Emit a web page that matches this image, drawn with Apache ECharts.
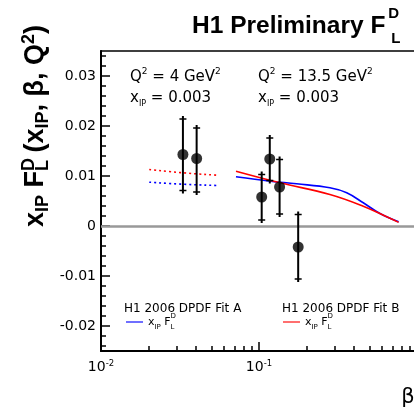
<!DOCTYPE html>
<html>
<head>
<meta charset="utf-8">
<script src="https://cdn.jsdelivr.net/npm/echarts@6/dist/echarts.min.js"></script>
<style>
  html, body { margin: 0; padding: 0; background: #fff; }
  #chart { width: 414px; height: 412px; }
</style>
</head>
<body>
<div id="chart"></div>
<script>
// measured data points: beta, value, total error band
const pointBeta = [0.033, 0.0403, 0.104, 0.117, 0.135, 0.177];
const pointVal = [0.0143, 0.0135, 0.0058, 0.0134, 0.0078, -0.0042];
const pointLow = [0.0071, 0.0068, 0.0012, 0.0091, 0.0024, -0.0106];
const pointHigh = [0.0214, 0.0196, 0.0103, 0.0176, 0.0133, 0.0023];

// Q2 = 4 GeV2 predictions (dotted)
const lowQBeta = [0.0202, 0.033, 0.0545];
const lowQFitA = [0.00876, 0.00836, 0.0081];
const lowQFitB = [0.0113, 0.01064, 0.01016];

// Q2 = 13.5 GeV2 predictions (solid)
const fitABeta = [0.0715, 0.118, 0.173, 0.281, 0.359, 0.457, 0.583, 0.765];
const fitAVal = [0.00984, 0.00896, 0.00844, 0.00764, 0.00664, 0.00464, 0.0025, 0.00084];
const fitBBeta = [0.0715, 0.136, 0.281, 0.457, 0.643, 0.765];
const fitBVal = [0.01096, 0.00864, 0.0063, 0.00396, 0.00184, 0.00072];

// axis ticks
const xTicks = [0.01, 0.1, 1];
const xTickLabels = ['{n|10}{p|-2}', '{n|10}{p|-1}', '{n|1}'];
const xMinorTicks = [0.02, 0.03, 0.04, 0.05, 0.06, 0.07, 0.08, 0.09, 0.2, 0.3, 0.4, 0.5, 0.6, 0.7, 0.8, 0.9];
const yTicks = [-0.02, -0.01, 0, 0.01, 0.02, 0.03];
const yTickLabels = ['-0.02', '-0.01', '0', '0.01', '0.02', '0.03'];
const yMinorTicks = [-0.024, -0.022, -0.018, -0.016, -0.014, -0.012, -0.008, -0.006, -0.004, -0.002,
  0.002, 0.004, 0.006, 0.008, 0.012, 0.014, 0.016, 0.018, 0.022, 0.024, 0.026, 0.028, 0.032, 0.034];

const lg = Math.log10;
const pair = (xs, ys) => xs.map((b, i) => [lg(b), ys[i]]);
const pickLabel = (ticks, labels, v) => {
  const i = ticks.findIndex((t) => Math.abs(t - v) < 1e-9);
  return i < 0 ? '' : labels[i];
};

const FONT = 'DejaVu Sans';
const BOLD = 'Liberation Sans';
const chart = echarts.init(document.getElementById('chart'));

const axisLineStyle = { color: '#000', width: 2 };
const tickStyle = { color: '#000', width: 1.5 };

// rich styles: m main, s subscript, p superscript, u stacked superscript (zero width)
const supRich = (size, sub, lh) => ({
  m: { fontFamily: FONT, fontSize: size, lineHeight: lh, color: '#000' },
  s: { fontFamily: FONT, fontSize: sub, lineHeight: sub + 2, verticalAlign: 'bottom', color: '#000' },
  p: { fontFamily: FONT, fontSize: sub, lineHeight: sub + 2, verticalAlign: 'top', color: '#000' },
  u: { fontFamily: FONT, fontSize: sub, lineHeight: sub + 2, verticalAlign: 'top', width: 0, color: '#000' },
});

const boldRich = (size, sub, lh, slh) => ({
  m: { fontFamily: BOLD, fontWeight: 'bold', fontSize: size, lineHeight: lh, color: '#000' },
  s: { fontFamily: BOLD, fontWeight: 'bold', fontSize: sub, lineHeight: slh, verticalAlign: 'bottom', color: '#000' },
  p: { fontFamily: BOLD, fontWeight: 'bold', fontSize: sub, lineHeight: slh, verticalAlign: 'top', color: '#000' },
  u: { fontFamily: BOLD, fontWeight: 'bold', fontSize: sub, lineHeight: slh, verticalAlign: 'top', width: 0, color: '#000' },
});

const legendRich = supRich(11, 7, 18);

const option = {
  animation: false,
  backgroundColor: '#fff',
  grid: {
    left: 101, top: 51, width: 316, height: 300,
    show: true, borderColor: '#000', borderWidth: 1.5,
    outerBoundsMode: 'none',
  },
  xAxis: [
    {
      type: 'value', min: -2, max: 0, position: 'bottom',
      axisLine: { onZero: false, lineStyle: axisLineStyle },
      axisTick: { inside: true, length: 9, customValues: xTicks.map(lg), lineStyle: tickStyle },
      axisLabel: {
        customValues: xTicks.map(lg),
        margin: 8,
        showMaxLabel: true,
        hideOverlap: false,
        formatter: (v) => pickLabel(xTicks.map(lg), xTickLabels, v),
        rich: {
          n: { fontFamily: FONT, fontSize: 14, lineHeight: 16, color: '#000' },
          p: { fontFamily: FONT, fontSize: 8.5, lineHeight: 9, verticalAlign: 'top', color: '#000' },
        },
      },
      splitLine: { show: false },
    },
    {
      type: 'value', min: -2, max: 0, position: 'bottom',
      axisLine: { show: false, onZero: false },
      axisTick: { inside: true, length: 5, customValues: xMinorTicks.map(lg), lineStyle: tickStyle },
      axisLabel: { show: false },
      splitLine: { show: false },
    },
  ],
  yAxis: [
    {
      type: 'value', min: -0.025, max: 0.035, position: 'left',
      axisLine: { onZero: false, lineStyle: axisLineStyle },
      axisTick: { inside: true, length: 9, customValues: yTicks, lineStyle: tickStyle },
      axisLabel: {
        customValues: yTicks,
        margin: 5,
        color: '#000',
        fontFamily: FONT,
        fontSize: 14,
        formatter: (v) => pickLabel(yTicks, yTickLabels, v),
      },
      splitLine: { show: false },
    },
    {
      type: 'value', min: -0.025, max: 0.035, position: 'left',
      axisLine: { show: false, onZero: false },
      axisTick: { inside: true, length: 5, customValues: yMinorTicks, lineStyle: tickStyle },
      axisLabel: { show: false },
      splitLine: { show: false },
    },
  ],
  legend: [
    {
      data: [{ name: 'Fit A', itemStyle: { color: '#6f6fff' } }],
      left: 126, top: 313, padding: 0,
      icon: 'rect', itemWidth: 17, itemHeight: 2,
      formatter: () => '{m|x}{s|IP}{m| F}{u|D}{s|L}',
      textStyle: { rich: legendRich },
    },
    {
      data: [{ name: 'Fit B', itemStyle: { color: '#ff6f6f' } }],
      left: 283, top: 313, padding: 0,
      icon: 'rect', itemWidth: 17, itemHeight: 2,
      formatter: () => '{m|x}{s|IP}{m| F}{u|D}{s|L}',
      textStyle: { rich: legendRich },
    },
  ],
  graphic: [
    {
      type: 'text', x: 192, y: 26,
      style: {
        text: '{m|H1 Preliminary F}{u|D}{d|L}',
        textVerticalAlign: 'middle',
        rich: {
          m: { fontFamily: BOLD, fontWeight: 'bold', fontSize: 24.5, lineHeight: 40, color: '#000' },
          u: { fontFamily: BOLD, fontWeight: 'bold', fontSize: 15, lineHeight: 15, verticalAlign: 'top', width: 0, padding: [0, 0, 0, 3], color: '#000' },
          d: { fontFamily: BOLD, fontWeight: 'bold', fontSize: 15, lineHeight: 14, verticalAlign: 'bottom', padding: [0, 0, 0, 3], color: '#000' },
        },
      },
    },
    {
      type: 'text', x: 36, y: 227, rotation: Math.PI / 2,
      style: {
        text: '{m|x}{s|IP}{m| F}{u|D}{s|L}{m| (x}{s|IP}{m|, β, Q}{p|2}{m|)}',
        textVerticalAlign: 'middle',
        rich: boldRich(27, 18, 32, 20),
      },
    },
    {
      type: 'text', x: 130, y: 77,
      style: { text: '{m|Q}{p|2}{m| = 4 GeV}{p|2}', textVerticalAlign: 'middle', rich: supRich(15, 9, 20) },
    },
    {
      type: 'text', x: 130, y: 98,
      style: { text: '{m|x}{s|IP}{m| = 0.003}', textVerticalAlign: 'middle', rich: supRich(15, 8, 20) },
    },
    {
      type: 'text', x: 258, y: 77,
      style: { text: '{m|Q}{p|2}{m| = 13.5 GeV}{p|2}', textVerticalAlign: 'middle', rich: supRich(15, 9, 20) },
    },
    {
      type: 'text', x: 258, y: 98,
      style: { text: '{m|x}{s|IP}{m| = 0.003}', textVerticalAlign: 'middle', rich: supRich(15, 8, 20) },
    },
    {
      type: 'text', x: 124, y: 309,
      style: { text: 'H1 2006 DPDF Fit A', textVerticalAlign: 'middle', fontFamily: FONT, fontSize: 12, fill: '#000' },
    },
    {
      type: 'text', x: 282, y: 309,
      style: { text: 'H1 2006 DPDF Fit B', textVerticalAlign: 'middle', fontFamily: FONT, fontSize: 12, fill: '#000' },
    },
    {
      type: 'text', x: 408, y: 398,
      style: { text: 'β', textAlign: 'center', textVerticalAlign: 'middle', fontFamily: FONT, fontSize: 21, fill: '#000' },
    },
  ],
  series: [
    {
      name: 'Q2=4 Fit A', type: 'line', data: pair(lowQBeta, lowQFitA),
      smooth: true, showSymbol: false, symbol: 'none',
      lineStyle: { color: '#0000ff', width: 1.6, type: [2, 3] }, z: 2,
    },
    {
      name: 'Q2=4 Fit B', type: 'line', data: pair(lowQBeta, lowQFitB),
      smooth: true, showSymbol: false, symbol: 'none',
      lineStyle: { color: '#ff0000', width: 1.6, type: [2, 3] }, z: 2,
    },
    {
      name: 'Fit A', type: 'line', data: pair(fitABeta, fitAVal),
      smooth: 0.4, showSymbol: false, symbol: 'none',
      itemStyle: { color: '#0000ff' },
      lineStyle: { color: '#0000ff', width: 1.6 }, z: 2,
    },
    {
      name: 'Fit B', type: 'line', data: pair(fitBBeta, fitBVal),
      smooth: 0.4, showSymbol: false, symbol: 'none',
      itemStyle: { color: '#ff0000' },
      lineStyle: { color: '#ff0000', width: 1.6 }, z: 2,
      markLine: {
        silent: true, symbol: 'none', label: { show: false },
        lineStyle: { color: '#999', width: 2.5, type: 'solid' },
        data: [{ yAxis: 0 }],
        z: 1,
      },
    },
    {
      name: 'errors', type: 'custom', z: 3,
      data: pointBeta.map((b, i) => [lg(b), pointLow[i], pointHigh[i]]),
      encode: { x: 0, y: [1, 2] },
      renderItem: (params, api) => {
        const x = api.value(0);
        const lo = api.coord([x, api.value(1)]);
        const hi = api.coord([x, api.value(2)]);
        const cap = 3.5;
        const ext = 3;
        return {
          type: 'group',
          children: [
            { type: 'line', shape: { x1: lo[0], y1: lo[1] + ext, x2: hi[0], y2: hi[1] - ext }, style: { stroke: '#000', lineWidth: 2 } },
            { type: 'line', shape: { x1: lo[0] - cap, y1: lo[1], x2: lo[0] + cap, y2: lo[1] }, style: { stroke: '#000', lineWidth: 1.5 } },
            { type: 'line', shape: { x1: hi[0] - cap, y1: hi[1], x2: hi[0] + cap, y2: hi[1] }, style: { stroke: '#000', lineWidth: 1.5 } },
          ],
        };
      },
    },
    {
      name: 'data', type: 'scatter', z: 4,
      data: pair(pointBeta, pointVal),
      symbol: 'circle', symbolSize: 11,
      itemStyle: { color: '#000' },
    },
  ],
};

chart.setOption(option);
</script>
</body>
</html>
